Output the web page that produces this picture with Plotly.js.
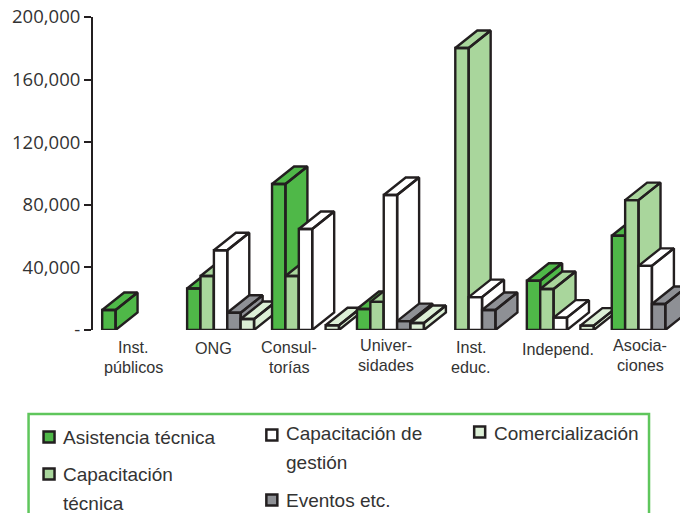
<!DOCTYPE html>
<html>
<head>
<meta charset="utf-8">
<script src="https://cdn.plot.ly/plotly-3.0.1.min.js"></script>
<style>html,body{margin:0;padding:0;background:#fff;overflow:hidden}#chart{width:680px;height:513px}</style>
</head>
<body>
<div id="chart"></div>
<script>
const categories = ["Inst.<br>públicos", "ONG", "Consul-<br>torías", "Univer-<br>sidades", "Inst.<br>educ.", "Independ.", "Asocia-<br>ciones"];
const asistenciaTecnica = [12800, 26500, 93300, 13400, null, 31500, 60200];
const capacitacionTecnica = [null, 34500, 34500, 18000, 180200, 26200, 83000];
const capacitacionGestion = [null, 51000, 64500, 86300, 21000, 7900, 41000];
const eventos = [null, 11000, null, 5700, 12800, null, 16600];
const comercializacion = [null, 7000, 3000, 4500, null, 2800, null];
const seriesNames = ["Asistencia técnica", "Capacitación<br>técnica", "Capacitación de<br>gestión", "Eventos etc.", "Comercialización"];
const seriesValues = [asistenciaTecnica, capacitacionTecnica, capacitacionGestion, eventos, comercializacion];
const seriesColors = ["#4fb848", "#a9d69c", "#ffffff", "#8e9095", "#dcefd6"];
const yTicks = [0, 40000, 80000, 120000, 160000, 200000];
const yTickLabels = ["-", "40,000", "80,000", "120,000", "160,000", "200,000"];

const INK = "#231f20", TEXT = "#333333";
const L = 92.5, T = 17, B = 330, PXCAT = 85, X0PX = 135.2;
const PXVAL = (B - T) / 200000;
const barW = 13.4 / PXCAT, depthX = 22 / PXCAT, depthY = 17.5 / PXVAL;
const px = x => (x - L) / (680 - L), py = y => (B - y) / (B - T);

const traces = [];
categories.forEach((c, i) => {
  seriesValues.forEach((vals, s) => {
    const v = vals[i];
    if (v === null) return;
    const x0 = i + (s - 2.5) * barW, x1 = x0 + barW;
    const xs = [x0, x1, x1, x0, x0, null,
                x1, x1 + depthX, x1 + depthX, x1, x1, null,
                x0, x0 + depthX, x1 + depthX, x1, x0];
    const ys = [0, 0, v, v, 0, null,
                0, depthY, v + depthY, v, 0, null,
                v, v + depthY, v + depthY, v, v];
    traces.push({
      type: "scatter", mode: "lines", x: xs, y: ys, fill: "toself",
      fillcolor: seriesColors[s], name: seriesNames[s].replace("<br>", " "),
      line: {color: INK, width: 2.4, shape: "linear"},
      hoverinfo: "skip", showlegend: false, cliponaxis: false
    });
  });
});

// category label placement (pixel centre, first line y)
const catPlace = [[133, 347], [213, 348], [289, 347], [386, 345], [471, 347], [558, 349], [640, 345]];
const annotations = [];
categories.forEach((c, i) => {
  c.split("<br>").forEach((t, k) => {
    annotations.push({xref: "paper", yref: "paper", x: px(catPlace[i][0]), y: py(catPlace[i][1] + k * 20),
      text: t, showarrow: false, xanchor: "center", yanchor: "middle",
      font: {family: "Liberation Sans, Arial, sans-serif", size: 16.2, color: TEXT}});
  });
});

// legend
const legendPlace = [[42, 437, [437]], [42, 474, [474, 503]], [265, 435, [434, 462]], [265, 500, [500]], [473, 432, [433]]];
const shapes = [{type: "rect", xref: "paper", yref: "paper", x0: px(28), x1: px(649), y0: py(414), y1: py(530),
  line: {color: "#5fc65c", width: 2.5}, fillcolor: "rgba(0,0,0,0)"}];
seriesNames.forEach((n, s) => {
  const [sx, sy, lines] = legendPlace[s];
  shapes.push({type: "rect", xref: "paper", yref: "paper", x0: px(sx + 1), x1: px(sx + 12), y0: py(sy - 5.5), y1: py(sy + 5.5),
    line: {color: INK, width: 2.5}, fillcolor: seriesColors[s]});
  n.split("<br>").forEach((t, k) => {
    annotations.push({xref: "paper", yref: "paper", x: px(sx + 18.5), y: py(lines[k]),
      text: t, showarrow: false, xanchor: "left", yanchor: "middle",
      font: {family: "Liberation Sans, Arial, sans-serif", size: 19, color: TEXT}});
  });
});

const layout = {
  width: 680, height: 513,
  margin: {l: L, r: 0, t: T, b: 513 - B, pad: 0},
  paper_bgcolor: "#fff", plot_bgcolor: "#fff",
  showlegend: false, hovermode: false,
  xaxis: {type: "linear", range: [(L - X0PX) / PXCAT, (680 - X0PX) / PXCAT], visible: false, fixedrange: true},
  yaxis: {range: [0, 200000], tickvals: yTicks, ticktext: yTickLabels, ticks: "outside", ticklen: 7, tickwidth: 2,
    tickcolor: INK, showline: true, linecolor: INK, linewidth: 2, showgrid: false, zeroline: false,
    ticklabelstandoff: 3.5, tickfont: {family: "Open Sans, sans-serif", size: 18.5, color: TEXT}, fixedrange: true},
  annotations, shapes
};
Plotly.newPlot("chart", traces, layout, {displayModeBar: false, staticPlot: true});
</script>
</body>
</html>
